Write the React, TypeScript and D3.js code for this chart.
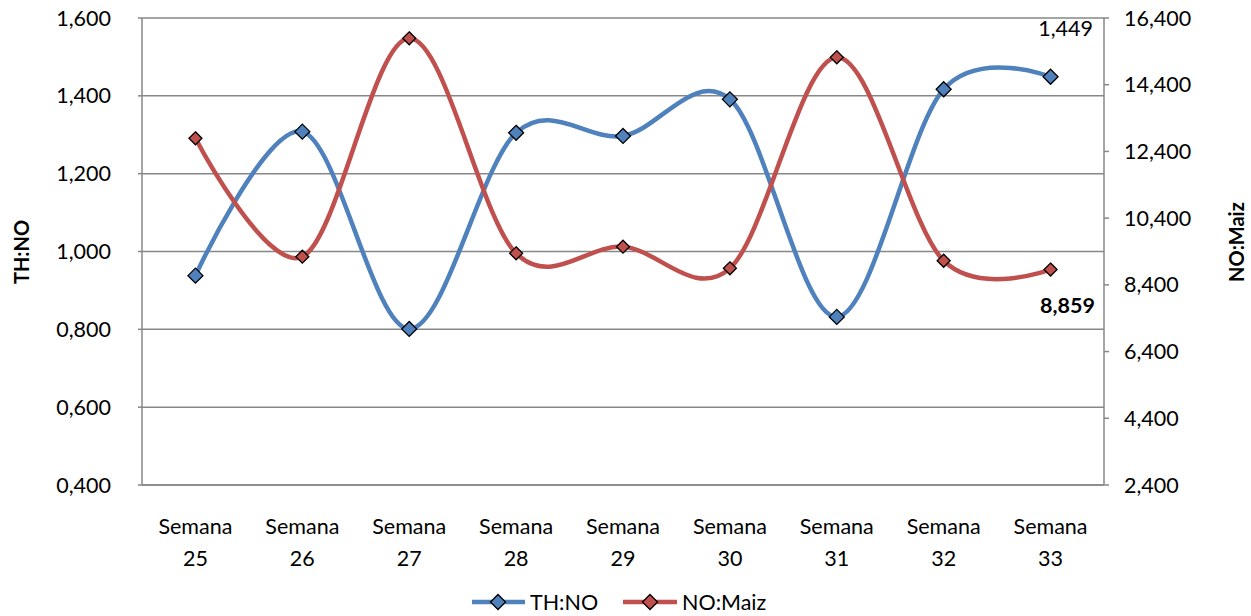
import React from "react";
import * as d3 from "d3";

const categories = ["25", "26", "27", "28", "29", "30", "31", "32", "33"];
const thNo = [0.938, 1.308, 0.801, 1.305, 1.297, 1.391, 0.832, 1.417, 1.449];
const noMaiz = [12793, 9244, 15791, 9346, 9544, 8896, 15222, 9124, 8859];
const leftTicks = [0.4, 0.6, 0.8, 1.0, 1.2, 1.4, 1.6];
const rightTicks = [2400, 4400, 6400, 8400, 10400, 12400, 14400, 16400];

const W = 1251, H = 616;
const L = 142, R = 1104, T = 18, B = 485;
const FONT = "Lato, 'Open Sans', sans-serif";
const BLUE = "#4F81BD", RED = "#C0504D", GRID = "#878787";
const FS = 21.5;

const fmtLeft = (v: number) => {
  const s = v.toFixed(3);
  const [i, d] = s.split(".");
  return `${i},${d}`;
};
const fmtRight = d3.format(",");

function Diamond({ x, y, fill, s = 7.5 }: { x: number; y: number; fill: string; s?: number }) {
  return (
    <path
      d={`M${x},${y - s}L${x + s},${y}L${x},${y + s}L${x - s},${y}Z`}
      fill={fill}
      stroke="#000"
      strokeWidth={1.3}
    />
  );
}

export default function App() {
  const x = d3.scaleBand().domain(categories).range([L, R]);
  const cx = (c: string) => (x(c) as number) + x.bandwidth() / 2;
  const yL = d3.scaleLinear().domain([0.4, 1.6]).range([B, T]);
  const yR = d3.scaleLinear().domain([2400, 16400]).range([B, T]);

  const lineL = d3
    .line<number>()
    .x((_, i) => cx(categories[i]))
    .y((d) => yL(d))
    .curve(d3.curveCardinal.tension(0));
  const lineR = d3
    .line<number>()
    .x((_, i) => cx(categories[i]))
    .y((d) => yR(d))
    .curve(d3.curveCardinal.tension(0));

  const last = categories.length - 1;

  return (
    <svg width={W} height={H} style={{ position: "absolute", left: 0, top: 0, fontFamily: FONT }}>
      <rect width={W} height={H} fill="#fff" />
      {leftTicks.map((t) => (
        <line key={"g" + t} x1={L} x2={R} y1={yL(t)} y2={yL(t)} stroke={GRID} strokeWidth={1.5} />
      ))}
      <line x1={L} x2={L} y1={T} y2={B} stroke={GRID} strokeWidth={1.5} />
      <line x1={R} x2={R} y1={T} y2={B} stroke={GRID} strokeWidth={1.5} />
      <line x1={L} x2={R} y1={B} y2={B} stroke={GRID} strokeWidth={1.5} />
      {leftTicks.map((t) => (
        <g key={"l" + t}>
          <line x1={L - 4} x2={L} y1={yL(t)} y2={yL(t)} stroke={GRID} strokeWidth={1.5} />
          <text x={111} y={yL(t)} dy="0.35em" textAnchor="end" fontSize={FS} fill="#000">
            {fmtLeft(t)}
          </text>
        </g>
      ))}
      {rightTicks.map((t) => (
        <g key={"r" + t}>
          <line x1={R} x2={R + 5} y1={yR(t)} y2={yR(t)} stroke={GRID} strokeWidth={1.5} />
          <text x={1124} y={yR(t)} dy="0.35em" textAnchor="start" fontSize={FS} fill="#000">
            {fmtRight(t)}
          </text>
        </g>
      ))}
      {categories.map((c) => (
        <g key={"x" + c}>
          <text x={cx(c)} y={534} textAnchor="middle" fontSize={FS} fill="#000">
            Semana
          </text>
          <text x={cx(c)} y={566} textAnchor="middle" fontSize={FS} fill="#000">
            {c}
          </text>
        </g>
      ))}
      <text
        transform={`translate(29,252) rotate(-90)`}
        textAnchor="middle"
        fontSize={20}
        fontWeight="bold"
        fill="#000"
      >
        TH:NO
      </text>
      <text
        transform={`translate(1244,242) rotate(-90)`}
        textAnchor="middle"
        fontSize={20}
        fontWeight="bold"
        fill="#000"
      >
        NO:Maiz
      </text>
      <path d={lineL(thNo) || ""} fill="none" stroke={BLUE} strokeWidth={4.5} />
      <path d={lineR(noMaiz) || ""} fill="none" stroke={RED} strokeWidth={4.5} />
      {thNo.map((v, i) => (
        <Diamond key={"b" + i} x={cx(categories[i])} y={yL(v)} fill={BLUE} />
      ))}
      {noMaiz.map((v, i) => (
        <Diamond key={"rd" + i} x={cx(categories[i])} y={yR(v)} fill={RED} s={6.5} />
      ))}
      <text x={cx(categories[last]) + 15} y={36} textAnchor="middle" fontSize={FS} fill="#000">
        {thNo[last].toFixed(3).replace(".", ",")}
      </text>
      <text x={cx(categories[last]) + 17} y={313} textAnchor="middle" fontSize={FS} fontWeight="bold" fill="#000">
        {fmtRight(noMaiz[last])}
      </text>
      <line x1={472} x2={525} y1={602} y2={602} stroke={BLUE} strokeWidth={4.5} />
      <Diamond x={498} y={602} fill={BLUE} />
      <text x={530} y={602} dy="0.35em" fontSize={FS} fill="#000">
        TH:NO
      </text>
      <line x1={623} x2={677} y1={602} y2={602} stroke={RED} strokeWidth={4.5} />
      <Diamond x={650} y={602} fill={RED} />
      <text x={682} y={602} dy="0.35em" fontSize={FS} fill="#000">
        NO:Maiz
      </text>
    </svg>
  );
}
